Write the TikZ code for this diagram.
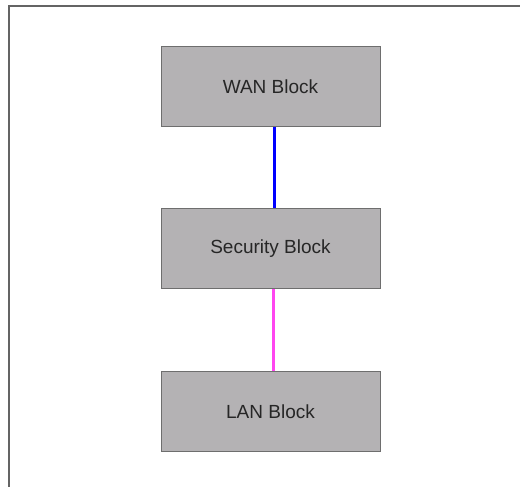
\documentclass[tikz,border=0pt]{standalone}
\usepackage{fontspec}
\setmainfont{Liberation Sans}
\definecolor{blockgray}{RGB}{180,178,180}
\definecolor{blockedge}{RGB}{110,110,110}
\definecolor{framegray}{RGB}{100,100,100}
\definecolor{wanblue}{RGB}{0,0,255}
\definecolor{lanpink}{RGB}{255,70,240}
\tikzset{
  block/.style={draw=blockedge, line width=1pt, fill=blockgray, minimum width=219pt, minimum height=80pt, font=\fontsize{19}{23}\selectfont, text=black!85},
  link/.style={line width=3pt}
}
\begin{document}
\begin{tikzpicture}[x=1pt, y=1pt]
\useasboundingbox (0,0) rectangle (520,487);
\draw[framegray, line width=1.3pt] (9,0) -- (9,481) -- (520,481);

\node[block] (wan) at (270.5,400) {WAN Block};
\node[block] (sec) at (270.5,238.5) {Security Block};
\node[block] (lan) at (270.5,75.5) {LAN Block};

\draw[link, wanblue] ([xshift=3.5pt]wan.south) -- ([xshift=3.5pt]sec.north);
\draw[link, lanpink] ([xshift=2.5pt]sec.south) -- ([xshift=2.5pt]lan.north);
\end{tikzpicture}
\end{document}
